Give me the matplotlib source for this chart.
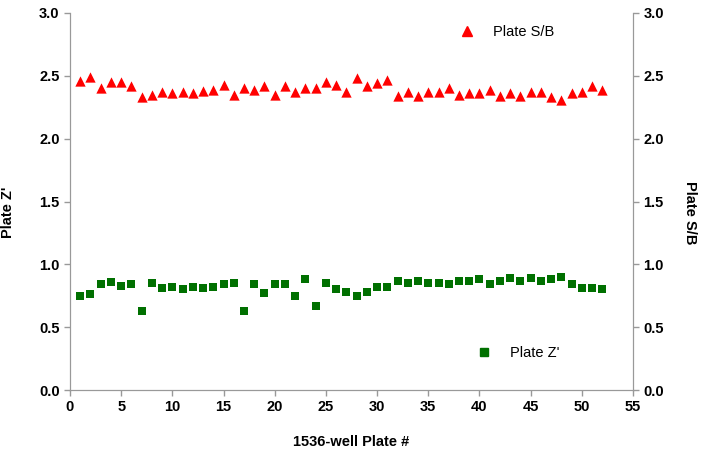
import matplotlib
matplotlib.use("Agg")
import matplotlib.pyplot as plt
from matplotlib.lines import Line2D

plate = list(range(1, 53))
sb = [2.46, 2.49, 2.40, 2.45, 2.45, 2.42, 2.33, 2.35, 2.37, 2.36,
      2.37, 2.36, 2.38, 2.39, 2.43, 2.35, 2.40, 2.39, 2.42, 2.35,
      2.42, 2.37, 2.40, 2.40, 2.45, 2.43, 2.37, 2.48, 2.42, 2.44,
      2.47, 2.34, 2.37, 2.34, 2.37, 2.37, 2.40, 2.35, 2.36, 2.36,
      2.39, 2.34, 2.36, 2.34, 2.37, 2.37, 2.33, 2.31, 2.36, 2.37,
      2.42, 2.39]
zprime = [0.75, 0.76, 0.84, 0.86, 0.83, 0.84, 0.63, 0.85, 0.81, 0.82,
          0.80, 0.82, 0.81, 0.82, 0.84, 0.85, 0.63, 0.84, 0.77, 0.84,
          0.84, 0.75, 0.88, 0.67, 0.85, 0.80, 0.78, 0.75, 0.78, 0.82,
          0.82, 0.87, 0.85, 0.865, 0.85, 0.85, 0.84, 0.865, 0.87, 0.88,
          0.84, 0.87, 0.89, 0.87, 0.89, 0.87, 0.88, 0.90, 0.84, 0.81,
          0.81, 0.80]

plt.rcParams['font.family'] = ['Liberation Sans', 'DejaVu Sans']

fig = plt.figure(figsize=(7.04, 4.58), dpi=100)
ax = fig.add_axes([70 / 704, 68 / 458, 563 / 704, 377 / 458])
ax2 = ax.twinx()

ax.scatter(plate, zprime, marker='s', s=36, color='#007000', linewidths=0, zorder=3)
ax2.scatter(plate, sb, marker='^', s=55, color='#ff0000', linewidths=0, zorder=3)

ax.set_xticks(range(0, 56, 5))
for a in (ax, ax2):
    a.set_xlim(0, 55)
    a.set_ylim(0, 3.0)
    a.set_yticks([0.0, 0.5, 1.0, 1.5, 2.0, 2.5, 3.0])
    a.set_yticklabels(['0.0', '0.5', '1.0', '1.5', '2.0', '2.5', '3.0'])
    for s in a.spines.values():
        s.set_color('#999999')
    a.spines['top'].set_visible(False)
    a.tick_params(colors='#999999', length=4, width=1, labelcolor='black', labelsize=10.5)
    for lab in a.get_yticklabels() + a.get_xticklabels():
        lab.set_weight('bold')

ax.set_xlabel('1536-well Plate #', weight='bold', fontsize=10.5)
ax.xaxis.set_label_coords(0.5, -0.12)
ax.set_ylabel("Plate Z'", weight='bold', fontsize=10.5)
ax.yaxis.set_label_coords(-0.098, 0.47)
ax2.set_ylabel('Plate S/B', weight='bold', fontsize=10.5, rotation=270, va='center')
ax2.yaxis.set_label_coords(1.101, 0.47)

h1 = [Line2D([], [], marker='^', color='#ff0000', linestyle='none', markersize=7)]
h2 = [Line2D([], [], marker='s', color='#007000', linestyle='none', markersize=6)]
ax2.legend(h1, ['Plate S/B'], loc='center', bbox_to_anchor=(0.77, 0.95),
           frameon=False, fontsize=10.5, handletextpad=0.8)
ax.legend(h2, ["Plate Z'"], loc='center', bbox_to_anchor=(0.79, 0.097),
          frameon=False, fontsize=10.5, handletextpad=0.8)

fig.savefig('out.png', dpi=100)
